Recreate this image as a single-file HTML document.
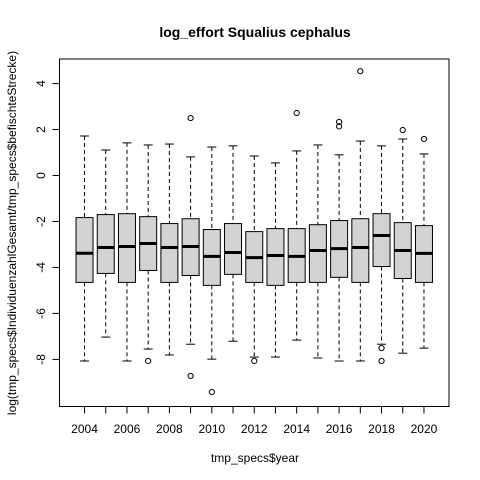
<!DOCTYPE html>
<html><head><meta charset="utf-8"><style>body{margin:0;background:#fff}svg{display:block;font-family:"Liberation Sans",sans-serif}</style></head>
<body>
<svg id="chart" width="480" height="480" viewBox="0 0 480 480" xmlns="http://www.w3.org/2000/svg">
<rect width="480" height="480" fill="#fff"/>
<text x="255" y="37" text-anchor="middle" font-weight="bold" font-size="14">log_effort Squalius cephalus</text>
<text x="255" y="462" text-anchor="middle" font-size="12">tmp_specs$year</text>
<text transform="translate(16,233) rotate(-90)" text-anchor="middle" font-size="12">log(tmp_specs$IndividuenzahlGesamt/tmp_specs$befischteStrecke)</text>
<g id="marks"></g>
</svg>
<script>
const years = [2004,2005,2006,2007,2008,2009,2010,2011,2012,2013,2014,2015,2016,2017,2018,2019,2020];
const whiskerHigh = [1.72,1.11,1.42,1.33,1.37,0.81,1.24,1.29,0.85,0.55,1.07,1.33,0.90,1.50,1.29,1.59,0.94];
const q3 = [-1.83,-1.70,-1.66,-1.79,-2.09,-1.88,-2.35,-2.09,-2.44,-2.31,-2.31,-2.14,-1.96,-1.88,-1.66,-2.05,-2.18];
const medians = [-3.38,-3.13,-3.09,-2.96,-3.13,-3.09,-3.52,-3.35,-3.57,-3.48,-3.52,-3.26,-3.18,-3.13,-2.61,-3.26,-3.39];
const q1 = [-4.65,-4.26,-4.65,-4.13,-4.65,-4.35,-4.78,-4.30,-4.65,-4.78,-4.65,-4.65,-4.43,-4.65,-3.96,-4.48,-4.65];
const whiskerLow = [-8.07,-7.03,-8.07,-7.55,-7.81,-7.34,-7.99,-7.21,-7.90,-7.90,-7.16,-7.94,-8.07,-8.07,-7.34,-7.73,-7.51];
const outliers = [[],[],[],[-8.07],[],[2.5,-8.72],[-9.42],[],[-8.07],[],[2.72],[],[2.33,2.14],[4.54],[-7.51,-8.07],[1.98],[1.59]];
const yTicks = [-8,-6,-4,-2,0,2,4];
const xTickLabels = ["2004","2006","2008","2010","2012","2014","2016","2018","2020"];

const L=59.5,R=449,T=59,B=406.5;
const xMin=-0.18,xMax=18.18,yMin=-10.05,yMax=5.07;
const xs=i=>L+(i+1-xMin)/(xMax-xMin)*(R-L);
const ys=v=>B-(v-yMin)/(yMax-yMin)*(B-T);
const g=document.getElementById('marks');
const NS='http://www.w3.org/2000/svg';
function mk(tag,attrs,name){const e=document.createElementNS(NS,tag);for(const k in attrs)e.setAttribute(k,attrs[k]);


g.appendChild(e);return e;}
const hw=8.5;
years.forEach((yr,i)=>{
  const x=xs(i);
  mk('line',{x1:x,x2:x,y1:ys(whiskerHigh[i]),y2:ys(q3[i]),stroke:'#000','stroke-dasharray':'4,3'},'whisker-upper-'+yr);
  mk('line',{x1:x,x2:x,y1:ys(q1[i]),y2:ys(whiskerLow[i]),stroke:'#000','stroke-dasharray':'4,3'},'whisker-lower-'+yr);
  mk('line',{x1:x-4.5,x2:x+4.5,y1:ys(whiskerHigh[i]),y2:ys(whiskerHigh[i]),stroke:'#000'},'cap-upper-'+yr);
  mk('line',{x1:x-4.5,x2:x+4.5,y1:ys(whiskerLow[i]),y2:ys(whiskerLow[i]),stroke:'#000'},'cap-lower-'+yr);
  mk('rect',{x:x-hw,y:ys(q3[i]),width:2*hw,height:ys(q1[i])-ys(q3[i]),fill:'#d3d3d3',stroke:'#000'},'box-'+yr);
  mk('line',{x1:x-hw,x2:x+hw,y1:ys(medians[i]),y2:ys(medians[i]),stroke:'#000','stroke-width':3},'median-'+yr);
  outliers[i].forEach(o=>mk('circle',{cx:x,cy:ys(o),r:2.6,fill:'none',stroke:'#000'},'outlier-'+yr));
  mk('line',{x1:x,x2:x,y1:B,y2:B+7,stroke:'#000'},'x-tick-'+yr);
});
xTickLabels.forEach(l=>{const i=years.indexOf(+l);const t=mk('text',{x:xs(i),y:433,'text-anchor':'middle','font-size':12},'x-tick-label-'+l);t.textContent=l;});
yTicks.forEach(v=>{const y=ys(v);mk('line',{x1:L,x2:L-7,y1:y,y2:y,stroke:'#000'},'y-tick-'+v);
const t=mk('text',{transform:`translate(45,${y}) rotate(-90)`,'text-anchor':'middle','font-size':12},'y-tick-label-'+v);t.textContent=v;});
mk('line',{x1:xs(0),x2:xs(16),y1:B,y2:B,stroke:'#000'},'x-axis-line');
mk('line',{x1:L,x2:L,y1:ys(-8),y2:ys(4),stroke:'#000'},'y-axis-line');
mk('rect',{x:L,y:T,width:R-L,height:B-T,fill:'none',stroke:'#000'},'plot-frame');
</script>
</body></html>
